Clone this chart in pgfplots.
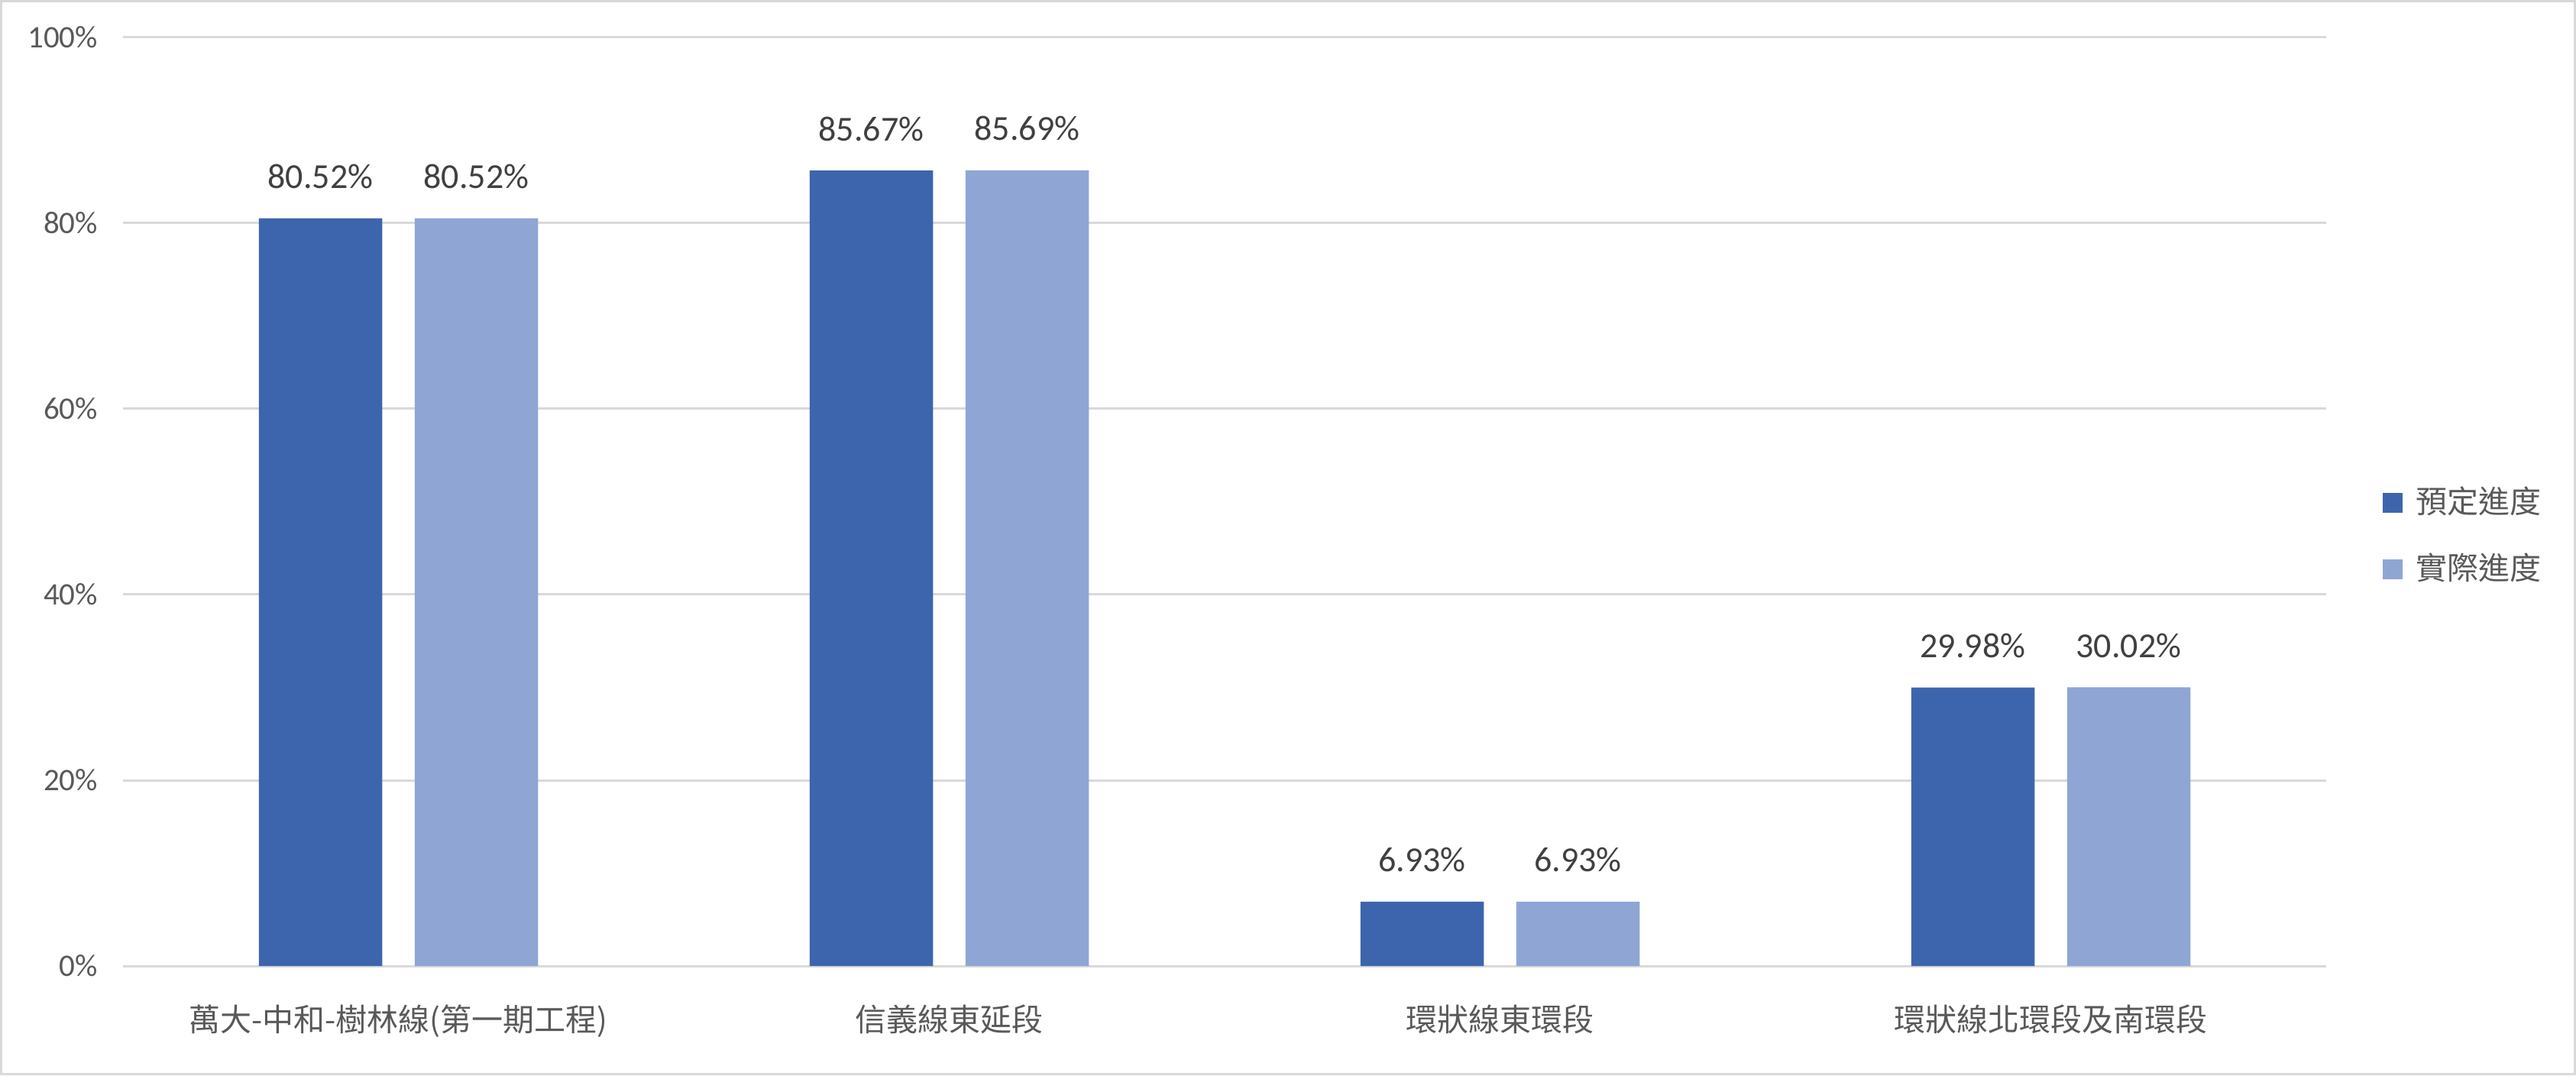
\documentclass[border=0pt]{standalone}
\usepackage{fontspec}
\setmainfont{Carlito}
\newfontfamily\cjk{Noto Sans CJK TC}
\usepackage{pgfplots}
\pgfplotsset{compat=1.18}

\definecolor{planblue}{RGB}{61,101,173}
\definecolor{realblue}{RGB}{143,165,212}
\definecolor{gridgray}{RGB}{217,217,217}
\definecolor{textgray}{RGB}{89,89,89}
\definecolor{labelgray}{RGB}{64,64,64}

\begin{document}
\begin{tikzpicture}
  % outer frame of the chart
  \draw[gridgray, line width=0.6pt] (0.3pt,0.3pt) rectangle (674.1pt,281.1pt);

  \begin{axis}[
    at={(32.2pt,28.6pt)}, anchor=south west,
    scale only axis,
    width=576.8pt, height=243pt,
    ybar,
    bar width=32.3pt,
    xmin=-0.5, xmax=3.5,
    ymin=0, ymax=100,
    axis line style={draw=none},
    major tick length=0pt,
    ymajorgrids,
    grid style={gridgray, line width=0.6pt},
    /pgf/number format/assume math mode=true,
    ytick={0,20,40,60,80,100},
    yticklabel={\pgfmathprintnumber{\tick}\%},
    yticklabel style={font=\fontsize{8.2}{9}\selectfont, text=textgray, inner sep=0pt, xshift=-6.4pt},
    xtick={0,1,2,3},
    xticklabels={萬大-中和-樹林線(第一期工程), 信義線東延段, 環狀線東環段, 環狀線北環段及南環段},
    xticklabel style={font=\cjk\fontsize{8.2}{9}\selectfont, text=textgray, inner sep=0pt, anchor=north, yshift=-10pt},
    nodes near coords={\pgfmathprintnumber[fixed, fixed zerofill, precision=2]{\pgfplotspointmeta}\%},
    nodes near coords style={font=\fontsize{9.2}{10}\selectfont, text=labelgray, inner sep=0pt, anchor=south, yshift=7.5pt},
    legend image code/.code={\fill[#1] (0pt,-2.6pt) rectangle (5.2pt,2.6pt);},
    legend cell align=left,
    legend style={at={(1,0.463)}, anchor=west, xshift=14.6pt,
      draw=none, fill=none, inner sep=0pt,
      font=\cjk\fontsize{8.2}{9}\selectfont, text=textgray,
      row sep=9pt, column sep=3.4pt,
      nodes={inner sep=0pt}},
  ]
    \addplot[fill=planblue, draw=none, bar shift=-20.4pt] coordinates {
      (0,80.52) (1,85.67) (2,6.93) (3,29.98)};
    \addplot[fill=realblue, draw=none, bar shift=20.4pt] coordinates {
      (0,80.52) (1,85.69) (2,6.93) (3,30.02)};
    \legend{預定進度, 實際進度}
  \end{axis}
\end{tikzpicture}
\end{document}
